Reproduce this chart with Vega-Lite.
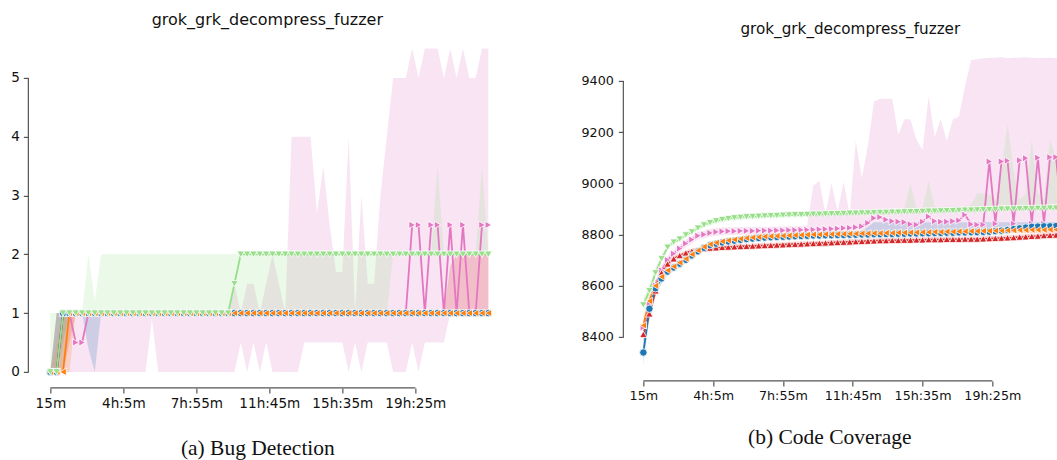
{
"$schema": "https://vega.github.io/schema/vega-lite/v6.json",
"background": "white",
"padding": {"left": 10.35, "top": 11.9, "right": 0, "bottom": 0},
"bounds": "flush",
"spacing": 117,
"config": {
 "view": {"stroke": null},
 "axis": {"domain": false, "grid": false, "ticks": true, "tickColor": "#555", "tickWidth": 1.2, "tickSize": 5, "labelFont": "DejaVu Sans", "labelColor": "#111", "labelFontSize": 13.6, "labelPadding": 4, "labelFlush": false, "labelOverlap": false, "labelBound": false, "titleFont": "Liberation Serif", "titleFontWeight": "normal", "titleColor": "#111", "titleFontSize": 21.5},
 "title": {"font": "DejaVu Sans", "fontWeight": "normal", "color": "#111", "anchor": "middle", "frame": "group", "baseline": "alphabetic"}
},
"datasets": {
"a": [
{"t":15,"s":"p","m":0,"l":0,"h":0},{"t":35,"s":"p","m":0,"l":0,"h":1},{"t":55,"s":"p","m":1,"l":0,"h":1},{"t":75,"s":"p","m":1,"l":0,"h":1},{"t":95,"s":"p","m":0.5,"l":0,"h":1},{"t":115,"s":"p","m":0.5,"l":0,"h":1},{"t":135,"s":"p","m":1,"l":0,"h":1},{"t":155,"s":"p","m":1,"l":0,"h":1},{"t":175,"s":"p","m":1,"l":0,"h":1},{"t":195,"s":"p","m":1,"l":0,"h":1},{"t":215,"s":"p","m":1,"l":0,"h":1},{"t":235,"s":"p","m":1,"l":0,"h":1},{"t":255,"s":"p","m":1,"l":0,"h":1},{"t":275,"s":"p","m":1,"l":0,"h":1},{"t":295,"s":"p","m":1,"l":0,"h":1},{"t":315,"s":"p","m":1,"l":0,"h":1},{"t":335,"s":"p","m":1,"l":0.9,"h":1},{"t":355,"s":"p","m":1,"l":0,"h":1},{"t":375,"s":"p","m":1,"l":0,"h":1},{"t":395,"s":"p","m":1,"l":0,"h":1},{"t":415,"s":"p","m":1,"l":0,"h":1},{"t":435,"s":"p","m":1,"l":0,"h":1},{"t":455,"s":"p","m":1,"l":0,"h":1},{"t":475,"s":"p","m":1,"l":0,"h":1},{"t":495,"s":"p","m":1,"l":0,"h":1},{"t":515,"s":"p","m":1,"l":0,"h":1},{"t":535,"s":"p","m":1,"l":0,"h":1},{"t":555,"s":"p","m":1,"l":0,"h":1},{"t":575,"s":"p","m":1,"l":0,"h":1},{"t":595,"s":"p","m":1,"l":0,"h":1.5},{"t":615,"s":"p","m":1,"l":0.5,"h":1},{"t":635,"s":"p","m":1,"l":0,"h":1.5},{"t":655,"s":"p","m":1,"l":0.5,"h":1.5},{"t":675,"s":"p","m":1,"l":0,"h":1},{"t":695,"s":"p","m":1,"l":0.5,"h":1.5},{"t":715,"s":"p","m":1,"l":0,"h":2},{"t":735,"s":"p","m":1,"l":0,"h":1.5},{"t":755,"s":"p","m":1,"l":0,"h":1},{"t":775,"s":"p","m":1,"l":0,"h":4},{"t":795,"s":"p","m":1,"l":0,"h":4},{"t":815,"s":"p","m":1,"l":0.5,"h":4},{"t":835,"s":"p","m":1,"l":0.5,"h":4},{"t":855,"s":"p","m":1,"l":0.5,"h":2.7},{"t":875,"s":"p","m":1,"l":0.5,"h":3.5},{"t":895,"s":"p","m":1,"l":0.5,"h":2.5},{"t":915,"s":"p","m":1,"l":0.5,"h":1.7},{"t":935,"s":"p","m":1,"l":0.5,"h":1.7},{"t":955,"s":"p","m":1,"l":0,"h":4},{"t":975,"s":"p","m":1,"l":0.5,"h":1},{"t":995,"s":"p","m":1,"l":0,"h":3},{"t":1015,"s":"p","m":1,"l":0.5,"h":1.5},{"t":1035,"s":"p","m":1,"l":0.5,"h":1.5},{"t":1055,"s":"p","m":1,"l":0.5,"h":3},{"t":1075,"s":"p","m":1,"l":0.5,"h":4},{"t":1095,"s":"p","m":1,"l":0,"h":5},{"t":1115,"s":"p","m":1,"l":0,"h":5},{"t":1135,"s":"p","m":1,"l":0,"h":5},{"t":1155,"s":"p","m":2.5,"l":0.5,"h":5.5},{"t":1175,"s":"p","m":2.5,"l":0,"h":5},{"t":1195,"s":"p","m":1,"l":0.5,"h":5.5},{"t":1215,"s":"p","m":2.5,"l":0.5,"h":5.5},{"t":1235,"s":"p","m":2.5,"l":0.5,"h":5.5},{"t":1255,"s":"p","m":1,"l":0.5,"h":5},{"t":1275,"s":"p","m":2.5,"l":1,"h":5.5},{"t":1295,"s":"p","m":1,"l":1,"h":5},{"t":1315,"s":"p","m":2.5,"l":1,"h":5.5},{"t":1335,"s":"p","m":1,"l":1,"h":5},{"t":1355,"s":"p","m":1,"l":1,"h":5},{"t":1375,"s":"p","m":2.5,"l":1,"h":5.5},{"t":1395,"s":"p","m":2.5,"l":1,"h":5.5},
{"t":15,"s":"r","m":0,"l":0,"h":0},{"t":35,"s":"r","m":0,"l":0,"h":1},{"t":55,"s":"r","m":1,"l":0,"h":1},{"t":75,"s":"r","m":1,"l":0.5,"h":1},{"t":95,"s":"r","m":1,"l":1,"h":1},{"t":115,"s":"r","m":1,"l":1,"h":1},{"t":135,"s":"r","m":1,"l":1,"h":1},{"t":155,"s":"r","m":1,"l":1,"h":1},{"t":175,"s":"r","m":1,"l":1,"h":1},{"t":195,"s":"r","m":1,"l":1,"h":1},{"t":215,"s":"r","m":1,"l":1,"h":1},{"t":235,"s":"r","m":1,"l":1,"h":1},{"t":255,"s":"r","m":1,"l":1,"h":1},{"t":275,"s":"r","m":1,"l":1,"h":1},{"t":295,"s":"r","m":1,"l":1,"h":1},{"t":315,"s":"r","m":1,"l":1,"h":1},{"t":335,"s":"r","m":1,"l":1,"h":1},{"t":355,"s":"r","m":1,"l":1,"h":1},{"t":375,"s":"r","m":1,"l":1,"h":1},{"t":395,"s":"r","m":1,"l":1,"h":1},{"t":415,"s":"r","m":1,"l":1,"h":1},{"t":435,"s":"r","m":1,"l":1,"h":1},{"t":455,"s":"r","m":1,"l":1,"h":1},{"t":475,"s":"r","m":1,"l":1,"h":1},{"t":495,"s":"r","m":1,"l":1,"h":1},{"t":515,"s":"r","m":1,"l":1,"h":1},{"t":535,"s":"r","m":1,"l":1,"h":1},{"t":555,"s":"r","m":1,"l":1,"h":1},{"t":575,"s":"r","m":1,"l":1,"h":1},{"t":595,"s":"r","m":1,"l":1,"h":1},{"t":615,"s":"r","m":1,"l":1,"h":1},{"t":635,"s":"r","m":1,"l":1,"h":1},{"t":655,"s":"r","m":1,"l":1,"h":1},{"t":675,"s":"r","m":1,"l":1,"h":1},{"t":695,"s":"r","m":1,"l":1,"h":1},{"t":715,"s":"r","m":1,"l":1,"h":1},{"t":735,"s":"r","m":1,"l":1,"h":1},{"t":755,"s":"r","m":1,"l":1,"h":1},{"t":775,"s":"r","m":1,"l":1,"h":1},{"t":795,"s":"r","m":1,"l":1,"h":1},{"t":815,"s":"r","m":1,"l":1,"h":1},{"t":835,"s":"r","m":1,"l":1,"h":1},{"t":855,"s":"r","m":1,"l":1,"h":1},{"t":875,"s":"r","m":1,"l":1,"h":1},{"t":895,"s":"r","m":1,"l":1,"h":1},{"t":915,"s":"r","m":1,"l":1,"h":1},{"t":935,"s":"r","m":1,"l":1,"h":1},{"t":955,"s":"r","m":1,"l":1,"h":1},{"t":975,"s":"r","m":1,"l":1,"h":1},{"t":995,"s":"r","m":1,"l":1,"h":1},{"t":1015,"s":"r","m":1,"l":1,"h":1},{"t":1035,"s":"r","m":1,"l":1,"h":1},{"t":1055,"s":"r","m":1,"l":1,"h":1},{"t":1075,"s":"r","m":1,"l":1,"h":1},{"t":1095,"s":"r","m":1,"l":1,"h":1},{"t":1115,"s":"r","m":1,"l":1,"h":1},{"t":1135,"s":"r","m":1,"l":1,"h":1},{"t":1155,"s":"r","m":1,"l":1,"h":1},{"t":1175,"s":"r","m":1,"l":1,"h":1},{"t":1195,"s":"r","m":1,"l":1,"h":1},{"t":1215,"s":"r","m":1,"l":1,"h":1},{"t":1235,"s":"r","m":1,"l":1,"h":1},{"t":1255,"s":"r","m":1,"l":1,"h":1},{"t":1275,"s":"r","m":1,"l":1,"h":1.8},{"t":1295,"s":"r","m":1,"l":1,"h":2},{"t":1315,"s":"r","m":1,"l":1,"h":2},{"t":1335,"s":"r","m":1,"l":1,"h":2},{"t":1355,"s":"r","m":1,"l":1,"h":2},{"t":1375,"s":"r","m":1,"l":1,"h":2},{"t":1395,"s":"r","m":1,"l":1,"h":2},
{"t":15,"s":"b","m":0,"l":0,"h":0},{"t":35,"s":"b","m":0,"l":0,"h":1},{"t":55,"s":"b","m":1,"l":0.5,"h":1},{"t":75,"s":"b","m":1,"l":1,"h":1},{"t":95,"s":"b","m":1,"l":1,"h":1},{"t":115,"s":"b","m":1,"l":1,"h":1},{"t":135,"s":"b","m":1,"l":0.4,"h":1},{"t":155,"s":"b","m":1,"l":0,"h":1},{"t":175,"s":"b","m":1,"l":1,"h":1},{"t":195,"s":"b","m":1,"l":1,"h":1},{"t":215,"s":"b","m":1,"l":1,"h":1},{"t":235,"s":"b","m":1,"l":1,"h":1},{"t":255,"s":"b","m":1,"l":1,"h":1},{"t":275,"s":"b","m":1,"l":1,"h":1},{"t":295,"s":"b","m":1,"l":1,"h":1},{"t":315,"s":"b","m":1,"l":1,"h":1},{"t":335,"s":"b","m":1,"l":1,"h":1},{"t":355,"s":"b","m":1,"l":1,"h":1},{"t":375,"s":"b","m":1,"l":1,"h":1},{"t":395,"s":"b","m":1,"l":1,"h":1},{"t":415,"s":"b","m":1,"l":1,"h":1},{"t":435,"s":"b","m":1,"l":1,"h":1},{"t":455,"s":"b","m":1,"l":1,"h":1},{"t":475,"s":"b","m":1,"l":1,"h":1},{"t":495,"s":"b","m":1,"l":1,"h":1},{"t":515,"s":"b","m":1,"l":1,"h":1},{"t":535,"s":"b","m":1,"l":1,"h":1},{"t":555,"s":"b","m":1,"l":1,"h":1},{"t":575,"s":"b","m":1,"l":1,"h":1},{"t":595,"s":"b","m":1,"l":1,"h":1},{"t":615,"s":"b","m":1,"l":1,"h":1},{"t":635,"s":"b","m":1,"l":1,"h":1},{"t":655,"s":"b","m":1,"l":1,"h":1},{"t":675,"s":"b","m":1,"l":1,"h":1},{"t":695,"s":"b","m":1,"l":1,"h":1},{"t":715,"s":"b","m":1,"l":1,"h":1},{"t":735,"s":"b","m":1,"l":1,"h":1},{"t":755,"s":"b","m":1,"l":1,"h":1},{"t":775,"s":"b","m":1,"l":1,"h":1},{"t":795,"s":"b","m":1,"l":1,"h":1},{"t":815,"s":"b","m":1,"l":1,"h":1},{"t":835,"s":"b","m":1,"l":1,"h":1},{"t":855,"s":"b","m":1,"l":1,"h":1},{"t":875,"s":"b","m":1,"l":1,"h":1},{"t":895,"s":"b","m":1,"l":1,"h":1},{"t":915,"s":"b","m":1,"l":1,"h":1},{"t":935,"s":"b","m":1,"l":1,"h":1},{"t":955,"s":"b","m":1,"l":1,"h":1},{"t":975,"s":"b","m":1,"l":1,"h":1},{"t":995,"s":"b","m":1,"l":1,"h":1},{"t":1015,"s":"b","m":1,"l":1,"h":1},{"t":1035,"s":"b","m":1,"l":1,"h":1},{"t":1055,"s":"b","m":1,"l":1,"h":1},{"t":1075,"s":"b","m":1,"l":1,"h":1},{"t":1095,"s":"b","m":1,"l":1,"h":1},{"t":1115,"s":"b","m":1,"l":1,"h":1},{"t":1135,"s":"b","m":1,"l":1,"h":1},{"t":1155,"s":"b","m":1,"l":1,"h":1},{"t":1175,"s":"b","m":1,"l":1,"h":1},{"t":1195,"s":"b","m":1,"l":1,"h":1},{"t":1215,"s":"b","m":1,"l":1,"h":1},{"t":1235,"s":"b","m":1,"l":1,"h":1},{"t":1255,"s":"b","m":1,"l":1,"h":1},{"t":1275,"s":"b","m":1,"l":1,"h":1},{"t":1295,"s":"b","m":1,"l":1,"h":1},{"t":1315,"s":"b","m":1,"l":1,"h":1},{"t":1335,"s":"b","m":1,"l":1,"h":1},{"t":1355,"s":"b","m":1,"l":1,"h":1},{"t":1375,"s":"b","m":1,"l":1,"h":1},{"t":1395,"s":"b","m":1,"l":1,"h":1},
{"t":15,"s":"o","m":0,"l":0,"h":0},{"t":35,"s":"o","m":0,"l":0,"h":0.5},{"t":55,"s":"o","m":0,"l":0,"h":1},{"t":75,"s":"o","m":1,"l":0,"h":1},{"t":95,"s":"o","m":1,"l":1,"h":1},{"t":115,"s":"o","m":1,"l":1,"h":1},{"t":135,"s":"o","m":1,"l":1,"h":1},{"t":155,"s":"o","m":1,"l":1,"h":1},{"t":175,"s":"o","m":1,"l":1,"h":1},{"t":195,"s":"o","m":1,"l":1,"h":1},{"t":215,"s":"o","m":1,"l":1,"h":1},{"t":235,"s":"o","m":1,"l":1,"h":1},{"t":255,"s":"o","m":1,"l":1,"h":1},{"t":275,"s":"o","m":1,"l":1,"h":1},{"t":295,"s":"o","m":1,"l":1,"h":1},{"t":315,"s":"o","m":1,"l":1,"h":1},{"t":335,"s":"o","m":1,"l":1,"h":1},{"t":355,"s":"o","m":1,"l":1,"h":1},{"t":375,"s":"o","m":1,"l":1,"h":1},{"t":395,"s":"o","m":1,"l":1,"h":1},{"t":415,"s":"o","m":1,"l":1,"h":1},{"t":435,"s":"o","m":1,"l":1,"h":1},{"t":455,"s":"o","m":1,"l":1,"h":1},{"t":475,"s":"o","m":1,"l":1,"h":1},{"t":495,"s":"o","m":1,"l":1,"h":1},{"t":515,"s":"o","m":1,"l":1,"h":1},{"t":535,"s":"o","m":1,"l":1,"h":1},{"t":555,"s":"o","m":1,"l":1,"h":1},{"t":575,"s":"o","m":1,"l":1,"h":1},{"t":595,"s":"o","m":1,"l":1,"h":1},{"t":615,"s":"o","m":1,"l":1,"h":1},{"t":635,"s":"o","m":1,"l":1,"h":1},{"t":655,"s":"o","m":1,"l":1,"h":1},{"t":675,"s":"o","m":1,"l":1,"h":1},{"t":695,"s":"o","m":1,"l":1,"h":1},{"t":715,"s":"o","m":1,"l":1,"h":1},{"t":735,"s":"o","m":1,"l":1,"h":1},{"t":755,"s":"o","m":1,"l":1,"h":1},{"t":775,"s":"o","m":1,"l":1,"h":1},{"t":795,"s":"o","m":1,"l":1,"h":1},{"t":815,"s":"o","m":1,"l":1,"h":1},{"t":835,"s":"o","m":1,"l":1,"h":1},{"t":855,"s":"o","m":1,"l":1,"h":1},{"t":875,"s":"o","m":1,"l":1,"h":1},{"t":895,"s":"o","m":1,"l":1,"h":1},{"t":915,"s":"o","m":1,"l":1,"h":1},{"t":935,"s":"o","m":1,"l":1,"h":1},{"t":955,"s":"o","m":1,"l":1,"h":1},{"t":975,"s":"o","m":1,"l":1,"h":1},{"t":995,"s":"o","m":1,"l":1,"h":1},{"t":1015,"s":"o","m":1,"l":1,"h":1},{"t":1035,"s":"o","m":1,"l":1,"h":1},{"t":1055,"s":"o","m":1,"l":1,"h":1},{"t":1075,"s":"o","m":1,"l":1,"h":1},{"t":1095,"s":"o","m":1,"l":1,"h":1},{"t":1115,"s":"o","m":1,"l":1,"h":1},{"t":1135,"s":"o","m":1,"l":1,"h":1},{"t":1155,"s":"o","m":1,"l":1,"h":1},{"t":1175,"s":"o","m":1,"l":1,"h":1},{"t":1195,"s":"o","m":1,"l":1,"h":1},{"t":1215,"s":"o","m":1,"l":1,"h":1},{"t":1235,"s":"o","m":1,"l":1,"h":1},{"t":1255,"s":"o","m":1,"l":1,"h":1},{"t":1275,"s":"o","m":1,"l":1,"h":1},{"t":1295,"s":"o","m":1,"l":1,"h":1},{"t":1315,"s":"o","m":1,"l":1,"h":1},{"t":1335,"s":"o","m":1,"l":1,"h":1},{"t":1355,"s":"o","m":1,"l":1,"h":1},{"t":1375,"s":"o","m":1,"l":1,"h":1},{"t":1395,"s":"o","m":1,"l":1,"h":1},
{"t":15,"s":"g","m":0,"l":0,"h":1},{"t":35,"s":"g","m":0,"l":0,"h":1},{"t":55,"s":"g","m":1,"l":0,"h":1},{"t":75,"s":"g","m":1,"l":1,"h":1},{"t":95,"s":"g","m":1,"l":1,"h":1},{"t":115,"s":"g","m":1,"l":1,"h":1},{"t":135,"s":"g","m":1,"l":1,"h":2},{"t":155,"s":"g","m":1,"l":1,"h":1.2},{"t":175,"s":"g","m":1,"l":1,"h":2},{"t":195,"s":"g","m":1,"l":1,"h":2},{"t":215,"s":"g","m":1,"l":1,"h":2},{"t":235,"s":"g","m":1,"l":1,"h":2},{"t":255,"s":"g","m":1,"l":1,"h":2},{"t":275,"s":"g","m":1,"l":1,"h":2},{"t":295,"s":"g","m":1,"l":1,"h":2},{"t":315,"s":"g","m":1,"l":1,"h":2},{"t":335,"s":"g","m":1,"l":1,"h":2},{"t":355,"s":"g","m":1,"l":1,"h":2},{"t":375,"s":"g","m":1,"l":1,"h":2},{"t":395,"s":"g","m":1,"l":1,"h":2},{"t":415,"s":"g","m":1,"l":1,"h":2},{"t":435,"s":"g","m":1,"l":1,"h":2},{"t":455,"s":"g","m":1,"l":1,"h":2},{"t":475,"s":"g","m":1,"l":1,"h":2},{"t":495,"s":"g","m":1,"l":1,"h":2},{"t":515,"s":"g","m":1,"l":1,"h":2},{"t":535,"s":"g","m":1,"l":1,"h":2},{"t":555,"s":"g","m":1,"l":1,"h":2},{"t":575,"s":"g","m":1,"l":1,"h":2},{"t":595,"s":"g","m":1.5,"l":1,"h":2},{"t":615,"s":"g","m":2,"l":1,"h":2},{"t":635,"s":"g","m":2,"l":1,"h":2},{"t":655,"s":"g","m":2,"l":1,"h":2},{"t":675,"s":"g","m":2,"l":1,"h":2},{"t":695,"s":"g","m":2,"l":1,"h":2},{"t":715,"s":"g","m":2,"l":1,"h":2},{"t":735,"s":"g","m":2,"l":1,"h":2},{"t":755,"s":"g","m":2,"l":1,"h":2},{"t":775,"s":"g","m":2,"l":1,"h":2},{"t":795,"s":"g","m":2,"l":1,"h":2},{"t":815,"s":"g","m":2,"l":1,"h":2},{"t":835,"s":"g","m":2,"l":1,"h":2},{"t":855,"s":"g","m":2,"l":1,"h":2},{"t":875,"s":"g","m":2,"l":1,"h":2},{"t":895,"s":"g","m":2,"l":1,"h":2},{"t":915,"s":"g","m":2,"l":1,"h":2},{"t":935,"s":"g","m":2,"l":1,"h":2},{"t":955,"s":"g","m":2,"l":1,"h":2},{"t":975,"s":"g","m":2,"l":1,"h":2},{"t":995,"s":"g","m":2,"l":1,"h":2},{"t":1015,"s":"g","m":2,"l":1,"h":2},{"t":1035,"s":"g","m":2,"l":1,"h":2},{"t":1055,"s":"g","m":2,"l":1,"h":2},{"t":1075,"s":"g","m":2,"l":1,"h":2},{"t":1095,"s":"g","m":2,"l":2,"h":2},{"t":1115,"s":"g","m":2,"l":2,"h":2},{"t":1135,"s":"g","m":2,"l":2,"h":2},{"t":1155,"s":"g","m":2,"l":2,"h":2},{"t":1175,"s":"g","m":2,"l":2,"h":2},{"t":1195,"s":"g","m":2,"l":2,"h":2},{"t":1215,"s":"g","m":2,"l":2,"h":2},{"t":1235,"s":"g","m":2,"l":2,"h":3.5},{"t":1255,"s":"g","m":2,"l":2,"h":2},{"t":1275,"s":"g","m":2,"l":2,"h":2},{"t":1295,"s":"g","m":2,"l":2,"h":2},{"t":1315,"s":"g","m":2,"l":2,"h":2},{"t":1335,"s":"g","m":2,"l":2,"h":2},{"t":1355,"s":"g","m":2,"l":2,"h":2},{"t":1375,"s":"g","m":2,"l":2,"h":3.5},{"t":1395,"s":"g","m":2,"l":2,"h":2}
],
"b": [
{"t":15,"s":"p","m":8437,"l":8405,"h":8470},{"t":35,"s":"p","m":8530,"l":8505,"h":8555},{"t":55,"s":"p","m":8600,"l":8580,"h":8620},{"t":75,"s":"p","m":8660,"l":8645,"h":8680},{"t":95,"s":"p","m":8700,"l":8685,"h":8715},{"t":115,"s":"p","m":8725,"l":8710,"h":8740},{"t":135,"s":"p","m":8745,"l":8730,"h":8760},{"t":155,"s":"p","m":8765,"l":8750,"h":8780},{"t":175,"s":"p","m":8780,"l":8765,"h":8795},{"t":195,"s":"p","m":8795,"l":8780,"h":8810},{"t":215,"s":"p","m":8800,"l":8785,"h":8815},{"t":235,"s":"p","m":8806,"l":8791,"h":8821},{"t":255,"s":"p","m":8810,"l":8795,"h":8825},{"t":275,"s":"p","m":8812,"l":8797,"h":8827},{"t":295,"s":"p","m":8813,"l":8798,"h":8828},{"t":315,"s":"p","m":8813,"l":8798,"h":8828},{"t":335,"s":"p","m":8814,"l":8799,"h":8829},{"t":355,"s":"p","m":8814,"l":8799,"h":8829},{"t":375,"s":"p","m":8814,"l":8799,"h":8829},{"t":395,"s":"p","m":8815,"l":8800,"h":8830},{"t":415,"s":"p","m":8815,"l":8800,"h":8830},{"t":435,"s":"p","m":8815,"l":8800,"h":8830},{"t":455,"s":"p","m":8816,"l":8801,"h":8831},{"t":475,"s":"p","m":8816,"l":8801,"h":8831},{"t":495,"s":"p","m":8817,"l":8802,"h":8832},{"t":515,"s":"p","m":8817,"l":8802,"h":8832},{"t":535,"s":"p","m":8818,"l":8803,"h":8833},{"t":555,"s":"p","m":8818,"l":8803,"h":8835},{"t":575,"s":"p","m":8819,"l":8800,"h":8990},{"t":595,"s":"p","m":8820,"l":8800,"h":9010},{"t":615,"s":"p","m":8821,"l":8800,"h":8880},{"t":635,"s":"p","m":8822,"l":8800,"h":9000},{"t":655,"s":"p","m":8823,"l":8800,"h":8890},{"t":675,"s":"p","m":8825,"l":8800,"h":9005},{"t":695,"s":"p","m":8826,"l":8800,"h":8880},{"t":715,"s":"p","m":8828,"l":8800,"h":9165},{"t":735,"s":"p","m":8832,"l":8800,"h":9020},{"t":755,"s":"p","m":8845,"l":8800,"h":9150},{"t":775,"s":"p","m":8864,"l":8800,"h":9320},{"t":795,"s":"p","m":8868,"l":8800,"h":9330},{"t":815,"s":"p","m":8858,"l":8800,"h":9330},{"t":835,"s":"p","m":8852,"l":8800,"h":9330},{"t":855,"s":"p","m":8850,"l":8800,"h":9190},{"t":875,"s":"p","m":8848,"l":8800,"h":9250},{"t":895,"s":"p","m":8840,"l":8800,"h":9250},{"t":915,"s":"p","m":8838,"l":8800,"h":9170},{"t":935,"s":"p","m":8850,"l":8800,"h":9130},{"t":955,"s":"p","m":8870,"l":8800,"h":9340},{"t":975,"s":"p","m":8852,"l":8800,"h":9180},{"t":995,"s":"p","m":8850,"l":8800,"h":9250},{"t":1015,"s":"p","m":8850,"l":8800,"h":9165},{"t":1035,"s":"p","m":8852,"l":8800,"h":9250},{"t":1055,"s":"p","m":8855,"l":8800,"h":9260},{"t":1075,"s":"p","m":8877,"l":8800,"h":9380},{"t":1095,"s":"p","m":8840,"l":8800,"h":9482},{"t":1115,"s":"p","m":8838,"l":8805,"h":9485},{"t":1135,"s":"p","m":8838,"l":8805,"h":9488},{"t":1155,"s":"p","m":9085,"l":8805,"h":9490},{"t":1175,"s":"p","m":8842,"l":8805,"h":9490},{"t":1195,"s":"p","m":9085,"l":8805,"h":9492},{"t":1215,"s":"p","m":9088,"l":8805,"h":9488},{"t":1235,"s":"p","m":8842,"l":8805,"h":9490},{"t":1255,"s":"p","m":9090,"l":8805,"h":9490},{"t":1275,"s":"p","m":9098,"l":8805,"h":9492},{"t":1295,"s":"p","m":8842,"l":8805,"h":9490},{"t":1315,"s":"p","m":9100,"l":8805,"h":9488},{"t":1335,"s":"p","m":8842,"l":8805,"h":9490},{"t":1355,"s":"p","m":9102,"l":8805,"h":9490},{"t":1375,"s":"p","m":9102,"l":8805,"h":9488},{"t":1395,"s":"p","m":8842,"l":8805,"h":9490},
{"t":15,"s":"r","m":8410,"l":8380,"h":8440},{"t":35,"s":"r","m":8490,"l":8465,"h":8515},{"t":55,"s":"r","m":8580,"l":8560,"h":8600},{"t":75,"s":"r","m":8650,"l":8638,"h":8660},{"t":95,"s":"r","m":8685,"l":8673,"h":8695},{"t":115,"s":"r","m":8705,"l":8693,"h":8715},{"t":135,"s":"r","m":8718,"l":8706,"h":8728},{"t":155,"s":"r","m":8728,"l":8716,"h":8738},{"t":175,"s":"r","m":8735,"l":8723,"h":8745},{"t":195,"s":"r","m":8740,"l":8728,"h":8750},{"t":215,"s":"r","m":8744,"l":8732,"h":8754},{"t":235,"s":"r","m":8747,"l":8735,"h":8757},{"t":255,"s":"r","m":8748,"l":8736,"h":8758},{"t":275,"s":"r","m":8750,"l":8738,"h":8760},{"t":295,"s":"r","m":8751,"l":8739,"h":8761},{"t":315,"s":"r","m":8752,"l":8740,"h":8762},{"t":335,"s":"r","m":8753,"l":8741,"h":8763},{"t":355,"s":"r","m":8754,"l":8742,"h":8764},{"t":375,"s":"r","m":8755,"l":8743,"h":8765},{"t":395,"s":"r","m":8756,"l":8744,"h":8766},{"t":415,"s":"r","m":8757,"l":8745,"h":8767},{"t":435,"s":"r","m":8758,"l":8746,"h":8768},{"t":455,"s":"r","m":8759,"l":8747,"h":8769},{"t":475,"s":"r","m":8760,"l":8748,"h":8770},{"t":495,"s":"r","m":8761,"l":8749,"h":8771},{"t":515,"s":"r","m":8762,"l":8750,"h":8772},{"t":535,"s":"r","m":8763,"l":8751,"h":8773},{"t":555,"s":"r","m":8764,"l":8752,"h":8774},{"t":575,"s":"r","m":8765,"l":8753,"h":8775},{"t":595,"s":"r","m":8766,"l":8754,"h":8776},{"t":615,"s":"r","m":8767,"l":8755,"h":8777},{"t":635,"s":"r","m":8768,"l":8756,"h":8778},{"t":655,"s":"r","m":8769,"l":8757,"h":8779},{"t":675,"s":"r","m":8770,"l":8758,"h":8780},{"t":695,"s":"r","m":8771,"l":8759,"h":8781},{"t":715,"s":"r","m":8772,"l":8760,"h":8782},{"t":735,"s":"r","m":8773,"l":8761,"h":8783},{"t":755,"s":"r","m":8774,"l":8762,"h":8784},{"t":775,"s":"r","m":8775,"l":8763,"h":8785},{"t":795,"s":"r","m":8776,"l":8764,"h":8786},{"t":815,"s":"r","m":8776,"l":8764,"h":8786},{"t":835,"s":"r","m":8777,"l":8765,"h":8787},{"t":855,"s":"r","m":8777,"l":8765,"h":8787},{"t":875,"s":"r","m":8778,"l":8766,"h":8788},{"t":895,"s":"r","m":8778,"l":8766,"h":8788},{"t":915,"s":"r","m":8779,"l":8767,"h":8789},{"t":935,"s":"r","m":8779,"l":8767,"h":8789},{"t":955,"s":"r","m":8780,"l":8768,"h":8790},{"t":975,"s":"r","m":8780,"l":8768,"h":8790},{"t":995,"s":"r","m":8780,"l":8768,"h":8790},{"t":1015,"s":"r","m":8781,"l":8769,"h":8791},{"t":1035,"s":"r","m":8781,"l":8769,"h":8791},{"t":1055,"s":"r","m":8781,"l":8769,"h":8791},{"t":1075,"s":"r","m":8782,"l":8770,"h":8792},{"t":1095,"s":"r","m":8782,"l":8770,"h":8792},{"t":1115,"s":"r","m":8782,"l":8770,"h":8792},{"t":1135,"s":"r","m":8783,"l":8771,"h":8793},{"t":1155,"s":"r","m":8784,"l":8772,"h":8794},{"t":1175,"s":"r","m":8785,"l":8773,"h":8795},{"t":1195,"s":"r","m":8786,"l":8774,"h":8796},{"t":1215,"s":"r","m":8787,"l":8775,"h":8797},{"t":1235,"s":"r","m":8788,"l":8776,"h":8798},{"t":1255,"s":"r","m":8790,"l":8778,"h":8800},{"t":1275,"s":"r","m":8791,"l":8779,"h":8801},{"t":1295,"s":"r","m":8793,"l":8781,"h":8803},{"t":1315,"s":"r","m":8794,"l":8782,"h":8804},{"t":1335,"s":"r","m":8796,"l":8784,"h":8806},{"t":1355,"s":"r","m":8797,"l":8785,"h":8807},{"t":1375,"s":"r","m":8798,"l":8786,"h":8808},{"t":1395,"s":"r","m":8799,"l":8787,"h":8809},
{"t":15,"s":"b","m":8339,"l":8290,"h":8390},{"t":35,"s":"b","m":8510,"l":8470,"h":8550},{"t":55,"s":"b","m":8590,"l":8560,"h":8620},{"t":75,"s":"b","m":8628,"l":8608,"h":8648},{"t":95,"s":"b","m":8655,"l":8643,"h":8667},{"t":115,"s":"b","m":8671,"l":8659,"h":8683},{"t":135,"s":"b","m":8686,"l":8674,"h":8698},{"t":155,"s":"b","m":8701,"l":8689,"h":8713},{"t":175,"s":"b","m":8718,"l":8706,"h":8730},{"t":195,"s":"b","m":8734,"l":8722,"h":8746},{"t":215,"s":"b","m":8748,"l":8736,"h":8760},{"t":235,"s":"b","m":8758,"l":8746,"h":8770},{"t":255,"s":"b","m":8764,"l":8752,"h":8776},{"t":275,"s":"b","m":8769,"l":8757,"h":8781},{"t":295,"s":"b","m":8773,"l":8761,"h":8785},{"t":315,"s":"b","m":8776,"l":8764,"h":8788},{"t":335,"s":"b","m":8779,"l":8767,"h":8791},{"t":355,"s":"b","m":8782,"l":8770,"h":8794},{"t":375,"s":"b","m":8784,"l":8772,"h":8796},{"t":395,"s":"b","m":8786,"l":8774,"h":8798},{"t":415,"s":"b","m":8788,"l":8776,"h":8800},{"t":435,"s":"b","m":8789,"l":8777,"h":8801},{"t":455,"s":"b","m":8790,"l":8778,"h":8802},{"t":475,"s":"b","m":8791,"l":8779,"h":8803},{"t":495,"s":"b","m":8792,"l":8780,"h":8804},{"t":515,"s":"b","m":8793,"l":8781,"h":8805},{"t":535,"s":"b","m":8794,"l":8782,"h":8806},{"t":555,"s":"b","m":8795,"l":8783,"h":8807},{"t":575,"s":"b","m":8796,"l":8784,"h":8808},{"t":595,"s":"b","m":8796,"l":8784,"h":8808},{"t":615,"s":"b","m":8797,"l":8785,"h":8809},{"t":635,"s":"b","m":8797,"l":8785,"h":8809},{"t":655,"s":"b","m":8798,"l":8786,"h":8810},{"t":675,"s":"b","m":8798,"l":8786,"h":8810},{"t":695,"s":"b","m":8799,"l":8787,"h":8811},{"t":715,"s":"b","m":8799,"l":8787,"h":8811},{"t":735,"s":"b","m":8800,"l":8788,"h":8815},{"t":755,"s":"b","m":8800,"l":8788,"h":8830},{"t":775,"s":"b","m":8801,"l":8793,"h":8848},{"t":795,"s":"b","m":8801,"l":8793,"h":8848},{"t":815,"s":"b","m":8802,"l":8794,"h":8848},{"t":835,"s":"b","m":8802,"l":8794,"h":8848},{"t":855,"s":"b","m":8803,"l":8795,"h":8848},{"t":875,"s":"b","m":8803,"l":8795,"h":8848},{"t":895,"s":"b","m":8804,"l":8796,"h":8848},{"t":915,"s":"b","m":8804,"l":8796,"h":8848},{"t":935,"s":"b","m":8805,"l":8797,"h":8848},{"t":955,"s":"b","m":8805,"l":8797,"h":8848},{"t":975,"s":"b","m":8806,"l":8798,"h":8848},{"t":995,"s":"b","m":8806,"l":8798,"h":8848},{"t":1015,"s":"b","m":8807,"l":8799,"h":8848},{"t":1035,"s":"b","m":8807,"l":8799,"h":8848},{"t":1055,"s":"b","m":8808,"l":8800,"h":8848},{"t":1075,"s":"b","m":8808,"l":8800,"h":8848},{"t":1095,"s":"b","m":8809,"l":8801,"h":8848},{"t":1115,"s":"b","m":8809,"l":8801,"h":8848},{"t":1135,"s":"b","m":8810,"l":8802,"h":8848},{"t":1155,"s":"b","m":8811,"l":8803,"h":8848},{"t":1175,"s":"b","m":8813,"l":8805,"h":8848},{"t":1195,"s":"b","m":8815,"l":8807,"h":8848},{"t":1215,"s":"b","m":8818,"l":8810,"h":8848},{"t":1235,"s":"b","m":8821,"l":8813,"h":8848},{"t":1255,"s":"b","m":8824,"l":8816,"h":8848},{"t":1275,"s":"b","m":8827,"l":8819,"h":8848},{"t":1295,"s":"b","m":8830,"l":8822,"h":8848},{"t":1315,"s":"b","m":8831,"l":8823,"h":8848},{"t":1335,"s":"b","m":8832,"l":8824,"h":8848},{"t":1355,"s":"b","m":8832,"l":8824,"h":8848},{"t":1375,"s":"b","m":8833,"l":8825,"h":8848},{"t":1395,"s":"b","m":8833,"l":8825,"h":8848},
{"t":15,"s":"o","m":8445,"l":8415,"h":8475},{"t":35,"s":"o","m":8540,"l":8515,"h":8565},{"t":55,"s":"o","m":8600,"l":8580,"h":8620},{"t":75,"s":"o","m":8635,"l":8625,"h":8645},{"t":95,"s":"o","m":8660,"l":8650,"h":8670},{"t":115,"s":"o","m":8675,"l":8665,"h":8685},{"t":135,"s":"o","m":8690,"l":8680,"h":8700},{"t":155,"s":"o","m":8705,"l":8695,"h":8715},{"t":175,"s":"o","m":8722,"l":8712,"h":8732},{"t":195,"s":"o","m":8738,"l":8728,"h":8748},{"t":215,"s":"o","m":8752,"l":8742,"h":8762},{"t":235,"s":"o","m":8762,"l":8752,"h":8772},{"t":255,"s":"o","m":8768,"l":8758,"h":8778},{"t":275,"s":"o","m":8773,"l":8763,"h":8783},{"t":295,"s":"o","m":8777,"l":8767,"h":8787},{"t":315,"s":"o","m":8780,"l":8770,"h":8790},{"t":335,"s":"o","m":8783,"l":8773,"h":8793},{"t":355,"s":"o","m":8786,"l":8776,"h":8796},{"t":375,"s":"o","m":8788,"l":8778,"h":8798},{"t":395,"s":"o","m":8790,"l":8780,"h":8800},{"t":415,"s":"o","m":8792,"l":8782,"h":8802},{"t":435,"s":"o","m":8793,"l":8783,"h":8803},{"t":455,"s":"o","m":8794,"l":8784,"h":8804},{"t":475,"s":"o","m":8795,"l":8785,"h":8805},{"t":495,"s":"o","m":8796,"l":8786,"h":8806},{"t":515,"s":"o","m":8797,"l":8787,"h":8807},{"t":535,"s":"o","m":8798,"l":8788,"h":8808},{"t":555,"s":"o","m":8799,"l":8789,"h":8809},{"t":575,"s":"o","m":8800,"l":8790,"h":8810},{"t":595,"s":"o","m":8800,"l":8790,"h":8810},{"t":615,"s":"o","m":8801,"l":8791,"h":8811},{"t":635,"s":"o","m":8801,"l":8791,"h":8811},{"t":655,"s":"o","m":8802,"l":8792,"h":8812},{"t":675,"s":"o","m":8802,"l":8792,"h":8812},{"t":695,"s":"o","m":8803,"l":8793,"h":8813},{"t":715,"s":"o","m":8803,"l":8793,"h":8813},{"t":735,"s":"o","m":8804,"l":8794,"h":8814},{"t":755,"s":"o","m":8804,"l":8794,"h":8814},{"t":775,"s":"o","m":8805,"l":8795,"h":8815},{"t":795,"s":"o","m":8805,"l":8795,"h":8815},{"t":815,"s":"o","m":8806,"l":8796,"h":8816},{"t":835,"s":"o","m":8806,"l":8796,"h":8816},{"t":855,"s":"o","m":8807,"l":8797,"h":8817},{"t":875,"s":"o","m":8807,"l":8797,"h":8817},{"t":895,"s":"o","m":8808,"l":8798,"h":8818},{"t":915,"s":"o","m":8808,"l":8798,"h":8818},{"t":935,"s":"o","m":8809,"l":8799,"h":8819},{"t":955,"s":"o","m":8809,"l":8799,"h":8819},{"t":975,"s":"o","m":8810,"l":8800,"h":8820},{"t":995,"s":"o","m":8810,"l":8800,"h":8820},{"t":1015,"s":"o","m":8811,"l":8801,"h":8821},{"t":1035,"s":"o","m":8811,"l":8801,"h":8821},{"t":1055,"s":"o","m":8812,"l":8802,"h":8822},{"t":1075,"s":"o","m":8812,"l":8802,"h":8822},{"t":1095,"s":"o","m":8813,"l":8803,"h":8823},{"t":1115,"s":"o","m":8813,"l":8803,"h":8823},{"t":1135,"s":"o","m":8814,"l":8804,"h":8824},{"t":1155,"s":"o","m":8814,"l":8804,"h":8824},{"t":1175,"s":"o","m":8815,"l":8805,"h":8825},{"t":1195,"s":"o","m":8815,"l":8805,"h":8825},{"t":1215,"s":"o","m":8816,"l":8806,"h":8826},{"t":1235,"s":"o","m":8816,"l":8806,"h":8826},{"t":1255,"s":"o","m":8817,"l":8807,"h":8827},{"t":1275,"s":"o","m":8817,"l":8807,"h":8827},{"t":1295,"s":"o","m":8818,"l":8808,"h":8828},{"t":1315,"s":"o","m":8818,"l":8808,"h":8828},{"t":1335,"s":"o","m":8818,"l":8808,"h":8828},{"t":1355,"s":"o","m":8819,"l":8809,"h":8829},{"t":1375,"s":"o","m":8819,"l":8809,"h":8829},{"t":1395,"s":"o","m":8819,"l":8809,"h":8829},
{"t":15,"s":"g","m":8525,"l":8495,"h":8550},{"t":35,"s":"g","m":8580,"l":8555,"h":8605},{"t":55,"s":"g","m":8650,"l":8630,"h":8670},{"t":75,"s":"g","m":8705,"l":8695,"h":8717},{"t":95,"s":"g","m":8750,"l":8740,"h":8762},{"t":115,"s":"g","m":8770,"l":8760,"h":8782},{"t":135,"s":"g","m":8782,"l":8772,"h":8794},{"t":155,"s":"g","m":8798,"l":8788,"h":8810},{"t":175,"s":"g","m":8810,"l":8800,"h":8822},{"t":195,"s":"g","m":8825,"l":8815,"h":8837},{"t":215,"s":"g","m":8837,"l":8827,"h":8849},{"t":235,"s":"g","m":8846,"l":8836,"h":8858},{"t":255,"s":"g","m":8853,"l":8843,"h":8865},{"t":275,"s":"g","m":8858,"l":8848,"h":8870},{"t":295,"s":"g","m":8862,"l":8852,"h":8874},{"t":315,"s":"g","m":8865,"l":8855,"h":8877},{"t":335,"s":"g","m":8867,"l":8857,"h":8879},{"t":355,"s":"g","m":8869,"l":8859,"h":8881},{"t":375,"s":"g","m":8870,"l":8860,"h":8882},{"t":395,"s":"g","m":8871,"l":8861,"h":8883},{"t":415,"s":"g","m":8872,"l":8862,"h":8884},{"t":435,"s":"g","m":8873,"l":8863,"h":8885},{"t":455,"s":"g","m":8874,"l":8864,"h":8886},{"t":475,"s":"g","m":8875,"l":8865,"h":8887},{"t":495,"s":"g","m":8876,"l":8866,"h":8888},{"t":515,"s":"g","m":8877,"l":8867,"h":8889},{"t":535,"s":"g","m":8877,"l":8867,"h":8889},{"t":555,"s":"g","m":8878,"l":8868,"h":8890},{"t":575,"s":"g","m":8879,"l":8869,"h":8891},{"t":595,"s":"g","m":8879,"l":8869,"h":8891},{"t":615,"s":"g","m":8880,"l":8870,"h":8892},{"t":635,"s":"g","m":8881,"l":8871,"h":8893},{"t":655,"s":"g","m":8881,"l":8871,"h":8893},{"t":675,"s":"g","m":8882,"l":8872,"h":8894},{"t":695,"s":"g","m":8883,"l":8873,"h":8895},{"t":715,"s":"g","m":8883,"l":8873,"h":8895},{"t":735,"s":"g","m":8884,"l":8874,"h":8896},{"t":755,"s":"g","m":8884,"l":8874,"h":8896},{"t":775,"s":"g","m":8885,"l":8875,"h":8897},{"t":795,"s":"g","m":8886,"l":8876,"h":8898},{"t":815,"s":"g","m":8886,"l":8876,"h":8898},{"t":835,"s":"g","m":8887,"l":8877,"h":8899},{"t":855,"s":"g","m":8887,"l":8877,"h":8899},{"t":875,"s":"g","m":8888,"l":8878,"h":8900},{"t":895,"s":"g","m":8889,"l":8879,"h":9000},{"t":915,"s":"g","m":8889,"l":8879,"h":8901},{"t":935,"s":"g","m":8890,"l":8880,"h":8902},{"t":955,"s":"g","m":8891,"l":8881,"h":9010},{"t":975,"s":"g","m":8891,"l":8881,"h":8906},{"t":995,"s":"g","m":8892,"l":8882,"h":8907},{"t":1015,"s":"g","m":8893,"l":8883,"h":8908},{"t":1035,"s":"g","m":8893,"l":8883,"h":8908},{"t":1055,"s":"g","m":8894,"l":8884,"h":8909},{"t":1075,"s":"g","m":8895,"l":8885,"h":8910},{"t":1095,"s":"g","m":8895,"l":8885,"h":8915},{"t":1115,"s":"g","m":8896,"l":8886,"h":8960},{"t":1135,"s":"g","m":8897,"l":8887,"h":8960},{"t":1155,"s":"g","m":8897,"l":8887,"h":8955},{"t":1175,"s":"g","m":8898,"l":8888,"h":8935},{"t":1195,"s":"g","m":8899,"l":8889,"h":9050},{"t":1215,"s":"g","m":8899,"l":8889,"h":9230},{"t":1235,"s":"g","m":8900,"l":8890,"h":9050},{"t":1255,"s":"g","m":8900,"l":8890,"h":8935},{"t":1275,"s":"g","m":8901,"l":8891,"h":8960},{"t":1295,"s":"g","m":8901,"l":8891,"h":9170},{"t":1315,"s":"g","m":8902,"l":8892,"h":8960},{"t":1335,"s":"g","m":8902,"l":8892,"h":8935},{"t":1355,"s":"g","m":8903,"l":8893,"h":9170},{"t":1375,"s":"g","m":8903,"l":8893,"h":9100},{"t":1395,"s":"g","m":8904,"l":8894,"h":8935}
]
},
"hconcat": [
{
 "width": 478, "height": 340,
 "title": {"text": "grok_grk_decompress_fuzzer", "fontSize": 16, "offset": 20},
 "data": {"name": "a"},
 "resolve": {"axis": {"x": "independent", "y": "independent"}},
 "layer": [
  {"mark": {"type": "area", "opacity": 0.2},
   "encoding": {
    "x": {"field": "t", "type": "quantitative", "scale": {"domain": [-54.3, 1451.7], "nice": false, "zero": false},
     "axis": {"values": [15, 245, 475, 705, 935, 1165], "labelExpr": "datum.value < 60 ? datum.value + 'm' : floor(datum.value / 60) + 'h:' + (datum.value % 60) + 'm'", "title": "(a) Bug Detection", "titleX": 229, "titleY": 67, "titleBaseline": "alphabetic", "titleAlign": "center", "titleAnchor": "middle", "orient": "bottom"}},
    "y": {"field": "l", "type": "quantitative", "scale": {"domain": [-0.272, 5.51], "nice": false, "zero": false}, "axis": {"values": [0, 1, 2, 3, 4, 5], "format": "d", "title": null, "orient": "left"}},
    "y2": {"field": "h"},
    "color": {"field": "s", "type": "nominal", "scale": {"domain": ["b", "o", "g", "r", "p"], "range": ["#1f77b4", "#ff7f0e", "#98df8a", "#d62728", "#e377c2"]}, "legend": null}
   }},
  {"mark": {"type": "line", "strokeWidth": 1.8},
   "encoding": {
    "x": {"field": "t", "type": "quantitative", "axis": null},
    "y": {"field": "m", "type": "quantitative", "axis": null},
    "color": {"field": "s", "type": "nominal", "legend": null}
   }},
  {"mark": {"type": "point", "filled": true, "size": 55, "stroke": "white", "strokeWidth": 0.8, "opacity": 1},
   "encoding": {
    "x": {"field": "t", "type": "quantitative", "axis": null},
    "y": {"field": "m", "type": "quantitative", "axis": null},
    "color": {"field": "s", "type": "nominal", "legend": null},
    "shape": {"field": "s", "type": "nominal", "scale": {"domain": ["b", "o", "g", "r", "p"], "range": ["circle", "triangle-left", "triangle-down", "triangle-up", "triangle-right"]}, "legend": null}
   }},
  {"data": {"values": [{}]}, "mark": {"type": "rule", "color": "#555", "strokeWidth": 1.2},
   "encoding": {"x": {"datum": -54.3, "type": "quantitative", "axis": null}, "y": {"datum": 0, "type": "quantitative", "axis": null}, "y2": {"datum": 5}}},
  {"data": {"values": [{}]}, "mark": {"type": "rule", "color": "#555", "strokeWidth": 1.2},
   "encoding": {"x": {"datum": 15, "type": "quantitative", "axis": null}, "x2": {"datum": 1165}, "y": {"datum": -0.272, "type": "quantitative", "axis": null}}}
 ]
},
{
 "width": 434, "height": 333,
 "title": {"text": "grok_grk_decompress_fuzzer", "fontSize": 15.2, "offset": 11, "dx": 10},
 "data": {"name": "b"},
 "resolve": {"axis": {"x": "independent", "y": "independent"}},
 "layer": [
  {"mark": {"type": "area", "opacity": 0.2, "clip": true},
   "encoding": {
    "x": {"field": "t", "type": "quantitative", "scale": {"domain": [-50.9, 1379.1], "nice": false, "zero": false},
     "axis": {"values": [15, 245, 475, 705, 935, 1165], "labelExpr": "datum.value < 60 ? datum.value + 'm' : floor(datum.value / 60) + 'h:' + (datum.value % 60) + 'm'", "labelFontSize": 12.7, "labelPadding": 3.5, "title": "(b) Code Coverage", "titleX": 206, "titleY": 63, "titleBaseline": "alphabetic", "titleAlign": "center", "titleAnchor": "middle", "orient": "bottom"}},
    "y": {"field": "l", "type": "quantitative", "scale": {"domain": [8228.1, 9528.9], "nice": false, "zero": false}, "axis": {"values": [8400, 8600, 8800, 9000, 9200, 9400], "format": "d", "labelFontSize": 12.7, "labelPadding": 5, "title": null, "orient": "left"}},
    "y2": {"field": "h"},
    "color": {"field": "s", "type": "nominal", "scale": {"domain": ["b", "o", "g", "r", "p"], "range": ["#1f77b4", "#ff7f0e", "#98df8a", "#d62728", "#e377c2"]}, "legend": null}
   }},
  {"mark": {"type": "line", "strokeWidth": 1.8, "clip": true},
   "encoding": {
    "x": {"field": "t", "type": "quantitative", "axis": null},
    "y": {"field": "m", "type": "quantitative", "axis": null},
    "color": {"field": "s", "type": "nominal", "legend": null}
   }},
  {"mark": {"type": "point", "filled": true, "size": 55, "stroke": "white", "strokeWidth": 0.8, "opacity": 1, "clip": true},
   "encoding": {
    "x": {"field": "t", "type": "quantitative", "axis": null},
    "y": {"field": "m", "type": "quantitative", "axis": null},
    "color": {"field": "s", "type": "nominal", "legend": null},
    "shape": {"field": "s", "type": "nominal", "scale": {"domain": ["b", "o", "g", "r", "p"], "range": ["circle", "triangle-left", "triangle-down", "triangle-up", "triangle-right"]}, "legend": null}
   }},
  {"data": {"values": [{}]}, "mark": {"type": "rule", "color": "#555", "strokeWidth": 1.2},
   "encoding": {"x": {"datum": -50.9, "type": "quantitative", "axis": null}, "y": {"datum": 8400, "type": "quantitative", "axis": null}, "y2": {"datum": 9400}}},
  {"data": {"values": [{}]}, "mark": {"type": "rule", "color": "#555", "strokeWidth": 1.2},
   "encoding": {"x": {"datum": 15, "type": "quantitative", "axis": null}, "x2": {"datum": 1165}, "y": {"datum": 8228.1, "type": "quantitative", "axis": null}}}
 ]
}
]
}
